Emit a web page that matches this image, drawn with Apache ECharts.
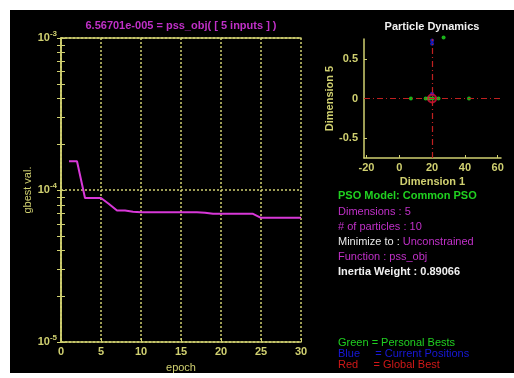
<!DOCTYPE html>
<html>
<head>
<meta charset="utf-8">
<script src="https://cdn.jsdelivr.net/npm/echarts@6/dist/echarts.min.js"></script>
<style>
html,body{margin:0;padding:0;background:#fff;}
#wrap{position:relative;width:514px;height:378px;background:#fff;overflow:hidden;}
#bg{position:absolute;left:10px;top:10px;width:504px;height:363px;background:#000;}
#chart{position:absolute;left:0;top:0;width:514px;height:378px;}
</style>
</head>
<body>
<div id="wrap"><div id="bg"></div><div id="chart"></div></div>
<script>
// ---- data ----
const epochs = [1,2,3,4,5,6,7,8,9,10,11,12,13,14,15,16,17,18,19,20,21,22,23,24,25,26,27,28,29,30];
const gbestVals = [1.545e-4,1.545e-4,8.86e-5,8.86e-5,8.86e-5,8.1e-5,7.33e-5,7.33e-5,7.2e-5,7.15e-5,
  7.15e-5,7.15e-5,7.15e-5,7.15e-5,7.15e-5,7.15e-5,7.15e-5,7.1e-5,6.98e-5,6.98e-5,
  6.98e-5,6.98e-5,6.98e-5,6.98e-5,6.567e-5,6.567e-5,6.567e-5,6.567e-5,6.567e-5,6.567e-5];
const xTicksMain = [0,5,10,15,20,25,30];
const yMajorTicks = [1e-5,1e-4,1e-3];
const yMinorTicks = [1e-5,2e-5,3e-5,4e-5,5e-5,6e-5,7e-5,8e-5,9e-5,1e-4,2e-4,3e-4,4e-4,5e-4,6e-4,7e-4,8e-4,9e-4,1e-3];

const pbestX = [7.1,16.1,17.7,18.8,23.9,42.5,27.0,20.5];
const pbestY = [0,0,0,0,0,0,0.77,0];
const curX = [20,20,20];
const curY = [0.73,0.69,0.06];
const gbestPos = [20,0];
const dimXTicks = [-20,0,20,40,60];
const dimYTicks = [-0.5,0,0.5];

const titleText = '6.56701e-005 = pss_obj( [ 5 inputs ] )';

// ---- style ----
const YEL = '#d0d070';
const MAG = '#c030c8';
const FONT = 'Liberation Sans, Arial, sans-serif';

const chart = echarts.init(document.getElementById('chart'), null, {renderer:'canvas'});

function supLabel(v){
  const e = Math.round(Math.log10(v));
  return '{b|10}{s|' + e + '}';
}
const richSup = {
  b:{color:YEL,fontSize:11,fontWeight:'bold',fontFamily:FONT},
  s:{color:YEL,fontSize:8,fontWeight:'bold',fontFamily:FONT,padding:[0,0,9,0]}
};

const option = {
  backgroundColor:'transparent',
  animation:false,
  textStyle:{fontFamily:FONT},
  grid:[
    {left:61,top:38,width:240,height:309},
    {left:364,top:39,width:137,height:119}
  ],
  xAxis:[
    {gridIndex:0,type:'value',min:0,max:30,interval:5,position:'bottom',
     name:'epoch',nameLocation:'middle',nameGap:15,
     nameTextStyle:{color:YEL,fontSize:11,fontFamily:FONT},
     axisLine:{lineStyle:{color:YEL,width:1.5}},
     axisTick:{inside:true,length:4,lineStyle:{color:YEL}},
     axisLabel:{color:YEL,fontSize:11,fontWeight:'bold',margin:4,customValues:xTicksMain},
     splitLine:{show:true,lineStyle:{color:YEL,type:[2,2],width:1.5}}},
    {gridIndex:0,type:'value',min:0,max:30,interval:5,position:'top',
     axisLine:{lineStyle:{color:YEL,width:1.5}},
     axisTick:{show:false},axisLabel:{show:false},splitLine:{show:false}},
    {gridIndex:1,type:'value',min:-21.5,max:62,position:'bottom',
     name:'Dimension 1',nameLocation:'middle',nameGap:18,
     nameTextStyle:{color:YEL,fontSize:11,fontWeight:'bold',fontFamily:FONT},
     axisLine:{onZero:false,lineStyle:{color:YEL,width:1.5}},
     axisTick:{inside:true,length:3,customValues:dimXTicks,lineStyle:{color:YEL}},
     axisLabel:{color:YEL,fontSize:11,fontWeight:'bold',margin:4,customValues:dimXTicks},
     splitLine:{show:false}}
  ],
  yAxis:[
    {gridIndex:0,type:'log',min:1e-5,max:1e-3,logBase:10,position:'left',
     name:'gbest val.',nameLocation:'middle',nameGap:28,
     nameTextStyle:{color:YEL,fontSize:11,fontFamily:FONT},
     axisLine:{lineStyle:{color:YEL,width:1.5}},
     axisTick:{inside:true,length:4,customValues:yMinorTicks,lineStyle:{color:YEL}},
     axisLabel:{margin:4,customValues:yMajorTicks,formatter:supLabel,rich:richSup},
     splitLine:{show:false}},
    {gridIndex:0,type:'log',min:1e-5,max:1e-3,logBase:10,position:'right',
     axisLine:{lineStyle:{color:YEL,width:1.5}},
     axisTick:{inside:true,length:4,customValues:yMinorTicks,lineStyle:{color:YEL}},
     axisLabel:{show:false},splitLine:{show:false}},
    {gridIndex:1,type:'value',min:-0.75,max:0.75,position:'left',
     name:'Dimension 5',nameLocation:'middle',nameGap:26,
     nameTextStyle:{color:YEL,fontSize:11,fontWeight:'bold',fontFamily:FONT},
     axisLine:{onZero:false,lineStyle:{color:YEL,width:1.5}},
     axisTick:{inside:true,length:3,customValues:dimYTicks,lineStyle:{color:YEL}},
     axisLabel:{color:YEL,fontSize:11,fontWeight:'bold',margin:6,customValues:dimYTicks},
     splitLine:{show:false}},
    {gridIndex:0,type:'log',min:1e-5,max:1e-3,logBase:10,position:'left',
     axisLine:{show:false},
     axisTick:{show:false,customValues:yMajorTicks},
     axisLabel:{show:false,customValues:yMajorTicks},
     splitLine:{show:true,lineStyle:{color:YEL,type:[2,2],width:1.5}}}
  ],
  series:[
    {type:'line',xAxisIndex:0,yAxisIndex:0,symbol:'none',
     data:epochs.map((e,i)=>[e,gbestVals[i]]),
     lineStyle:{color:'#d838d8',width:2}},
    {type:'scatter',xAxisIndex:2,yAxisIndex:2,symbol:'circle',symbolSize:4,clip:false,
     itemStyle:{color:'#20e020'},
     data:pbestX.map((x,i)=>[x,pbestY[i]]),
     markLine:{silent:true,symbol:'none',label:{show:false},
       lineStyle:{color:'#c02020',type:[6,3,1,3],width:1.2},
       data:[{xAxis:gbestPos[0]},{yAxis:gbestPos[1]}]}},
    {type:'scatter',xAxisIndex:2,yAxisIndex:2,symbol:'circle',symbolSize:4,clip:false,
     itemStyle:{color:'#2020e0'},
     data:curX.map((x,i)=>[x,curY[i]])},
    {type:'scatter',xAxisIndex:2,yAxisIndex:2,symbol:'circle',symbolSize:8,clip:false,
     itemStyle:{color:'transparent',borderColor:'#e01040',borderWidth:2},
     data:[gbestPos]}
  ],
  graphic:[
    {type:'text',x:181,y:26,style:{text:titleText,fill:MAG,font:'bold 11px '+FONT,textAlign:'center',textVerticalAlign:'middle'}},
    {type:'text',x:432,y:27,style:{text:'Particle Dynamics',fill:'#f0f0f0',font:'bold 11px '+FONT,textAlign:'center',textVerticalAlign:'middle'}},
    {type:'text',x:338,y:196,style:{text:'PSO Model: Common PSO',fill:'#20d020',font:'bold 11px '+FONT,textVerticalAlign:'middle'}},
    {type:'text',x:338,y:212,style:{text:'Dimensions : 5',fill:MAG,font:'11px '+FONT,textVerticalAlign:'middle'}},
    {type:'text',x:338,y:227,style:{text:'# of particles : 10',fill:MAG,font:'11px '+FONT,textVerticalAlign:'middle'}},
    {type:'text',x:338,y:242,style:{text:'{w|Minimize to : }{m|Unconstrained}',textVerticalAlign:'middle',
      rich:{w:{fill:'#e8e8e8',font:'11px '+FONT},m:{fill:MAG,font:'11px '+FONT}}}},
    {type:'text',x:338,y:257,style:{text:'Function : pss_obj',fill:MAG,font:'11px '+FONT,textVerticalAlign:'middle'}},
    {type:'text',x:338,y:272,style:{text:'Inertia Weight : 0.89066',fill:'#f0f0f0',font:'bold 11px '+FONT,textVerticalAlign:'middle'}},
    {type:'text',x:338,y:343,style:{text:'Green = Personal Bests',fill:'#20d020',font:'11px '+FONT,textVerticalAlign:'middle'}},
    {type:'text',x:338,y:354,style:{text:'Blue     = Current Positions',fill:'#1818d8',font:'11px '+FONT,textVerticalAlign:'middle'}},
    {type:'text',x:338,y:365,style:{text:'Red     = Global Best',fill:'#d01818',font:'11px '+FONT,textVerticalAlign:'middle'}}
  ]
};
chart.setOption(option);
</script>
</body>
</html>
